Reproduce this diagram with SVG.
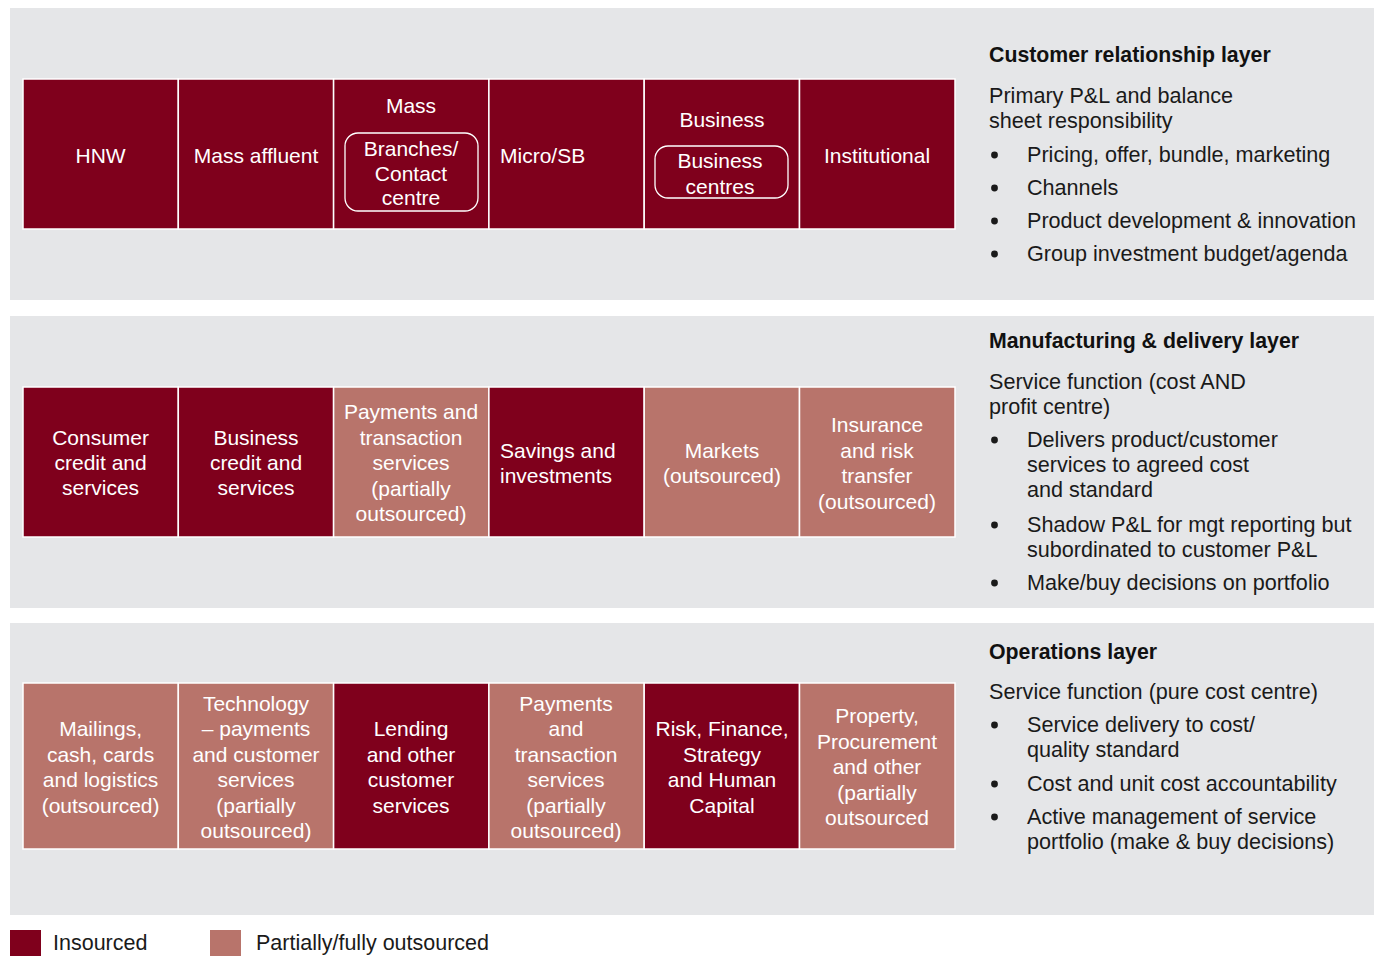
<svg xmlns="http://www.w3.org/2000/svg" width="1379" height="956" viewBox="0 0 1379 956">
<style>
.panel{fill:#e5e6e8}
.in{fill:#7f001c;stroke:#ffffff;stroke-width:1.5}
.out{fill:#b8746b;stroke:#ffffff;stroke-width:1.5}
.ct{font-family:"Liberation Sans",Arial,sans-serif;font-size:21px;fill:#ffffff;text-anchor:middle}
.cl{font-family:"Liberation Sans",Arial,sans-serif;font-size:21px;fill:#ffffff}
.pill{fill:none;stroke:#ffffff;stroke-width:1.3}
.h{font-family:"Liberation Sans",Arial,sans-serif;font-size:21.3px;font-weight:bold;fill:#111111}
.t{font-family:"Liberation Sans",Arial,sans-serif;font-size:21.6px;fill:#1a1a1a}
.b{fill:#1a1a1a}
.lg{font-family:"Liberation Sans",Arial,sans-serif;font-size:21.5px;fill:#1a1a1a}
</style>
<rect width="1379" height="956" fill="#ffffff"/>
<rect class="panel" x="10" y="8" width="1364" height="292"/>
<rect class="panel" x="10" y="316" width="1364" height="292"/>
<rect class="panel" x="10" y="623" width="1364" height="292"/>

<!-- Row 1 -->
<g id="hnw"><rect class="in" x="23" y="79" width="155.3" height="150"/><text class="ct" x="100.6" y="163">HNW</text></g>
<g id="mass-affluent"><rect class="in" x="178.3" y="79" width="155.3" height="150"/><text class="ct" x="256" y="163">Mass affluent</text></g>
<g id="mass"><rect class="in" x="333.6" y="79" width="155.3" height="150"/><text class="ct" x="411" y="113">Mass</text>
<rect class="pill" x="345" y="133" width="133" height="78" rx="13"/>
<text class="ct" x="411" y="156">Branches/</text><text class="ct" x="411" y="181">Contact</text><text class="ct" x="411" y="205">centre</text></g>
<g id="micro-sb"><rect class="in" x="488.9" y="79" width="155.3" height="150"/><text class="cl" x="500" y="163">Micro/SB</text></g>
<g id="business"><rect class="in" x="644.2" y="79" width="155.3" height="150"/><text class="ct" x="722" y="127">Business</text>
<rect class="pill" x="655" y="146" width="133" height="52" rx="13"/>
<text class="ct" x="720" y="168">Business</text><text class="ct" x="720" y="194">centres</text></g>
<g id="institutional"><rect class="in" x="799.5" y="79" width="155.5" height="150"/><text class="ct" x="877" y="163">Institutional</text></g>

<!-- Row 2 -->
<g id="consumer-credit"><rect class="in" x="23" y="387" width="155.3" height="150"/><text class="ct" x="100.6" y="445">Consumer</text><text class="ct" x="100.6" y="470">credit and</text><text class="ct" x="100.6" y="495">services</text></g>
<g id="business-credit"><rect class="in" x="178.3" y="387" width="155.3" height="150"/><text class="ct" x="256" y="445">Business</text><text class="ct" x="256" y="470">credit and</text><text class="ct" x="256" y="495">services</text></g>
<g id="payments-1"><rect class="out" x="333.6" y="387" width="155.3" height="150"/><text class="ct" x="411" y="419">Payments and</text><text class="ct" x="411" y="445">transaction</text><text class="ct" x="411" y="470">services</text><text class="ct" x="411" y="496">(partially</text><text class="ct" x="411" y="521">outsourced)</text></g>
<g id="savings"><rect class="in" x="488.9" y="387" width="155.3" height="150"/><text class="cl" x="500" y="458">Savings and</text><text class="cl" x="500" y="483">investments</text></g>
<g id="markets"><rect class="out" x="644.2" y="387" width="155.3" height="150"/><text class="ct" x="722" y="458">Markets</text><text class="ct" x="722" y="483">(outsourced)</text></g>
<g id="insurance"><rect class="out" x="799.5" y="387" width="155.5" height="150"/><text class="ct" x="877" y="432">Insurance</text><text class="ct" x="877" y="458">and risk</text><text class="ct" x="877" y="483">transfer</text><text class="ct" x="877" y="509">(outsourced)</text></g>

<!-- Row 3 -->
<g id="mailings"><rect class="out" x="23" y="683" width="155.3" height="166"/><text class="ct" x="100.6" y="736">Mailings,</text><text class="ct" x="100.6" y="762">cash, cards</text><text class="ct" x="100.6" y="787">and logistics</text><text class="ct" x="100.6" y="813">(outsourced)</text></g>
<g id="technology"><rect class="out" x="178.3" y="683" width="155.3" height="166"/><text class="ct" x="256" y="711">Technology</text><text class="ct" x="256" y="736">– payments</text><text class="ct" x="256" y="762">and customer</text><text class="ct" x="256" y="787">services</text><text class="ct" x="256" y="813">(partially</text><text class="ct" x="256" y="838">outsourced)</text></g>
<g id="lending"><rect class="in" x="333.6" y="683" width="155.3" height="166"/><text class="ct" x="411" y="736">Lending</text><text class="ct" x="411" y="762">and other</text><text class="ct" x="411" y="787">customer</text><text class="ct" x="411" y="813">services</text></g>
<g id="payments-2"><rect class="out" x="488.9" y="683" width="155.3" height="166"/><text class="ct" x="566" y="711">Payments</text><text class="ct" x="566" y="736">and</text><text class="ct" x="566" y="762">transaction</text><text class="ct" x="566" y="787">services</text><text class="ct" x="566" y="813">(partially</text><text class="ct" x="566" y="838">outsourced)</text></g>
<g id="risk"><rect class="in" x="644.2" y="683" width="155.3" height="166"/><text class="ct" x="722" y="736">Risk, Finance,</text><text class="ct" x="722" y="762">Strategy</text><text class="ct" x="722" y="787">and Human</text><text class="ct" x="722" y="813">Capital</text></g>
<g id="property"><rect class="out" x="799.5" y="683" width="155.5" height="166"/><text class="ct" x="877" y="723">Property,</text><text class="ct" x="877" y="749">Procurement</text><text class="ct" x="877" y="774">and other</text><text class="ct" x="877" y="800">(partially</text><text class="ct" x="877" y="825">outsourced</text></g>

<!-- Right descriptions -->
<g id="desc-customer">
<text class="h" x="989" y="62">Customer relationship layer</text>
<text class="t" x="989" y="103">Primary P&amp;L and balance</text>
<text class="t" x="989" y="128">sheet responsibility</text>
<circle class="b" cx="994.5" cy="155" r="3.4"/><text class="t" x="1027" y="162">Pricing, offer, bundle, marketing</text>
<circle class="b" cx="994.5" cy="188" r="3.4"/><text class="t" x="1027" y="195">Channels</text>
<circle class="b" cx="994.5" cy="221" r="3.4"/><text class="t" x="1027" y="228">Product development &amp; innovation</text>
<circle class="b" cx="994.5" cy="254" r="3.4"/><text class="t" x="1027" y="261">Group investment budget/agenda</text>
</g>
<g id="desc-manufacturing">
<text class="h" x="989" y="348">Manufacturing &amp; delivery layer</text>
<text class="t" x="989" y="389">Service function (cost AND</text>
<text class="t" x="989" y="414">profit centre)</text>
<circle class="b" cx="994.5" cy="440" r="3.4"/><text class="t" x="1027" y="447">Delivers product/customer</text>
<text class="t" x="1027" y="472">services to agreed cost</text>
<text class="t" x="1027" y="497">and standard</text>
<circle class="b" cx="994.5" cy="525" r="3.4"/><text class="t" x="1027" y="532">Shadow P&amp;L for mgt reporting but</text>
<text class="t" x="1027" y="557">subordinated to customer P&amp;L</text>
<circle class="b" cx="994.5" cy="583" r="3.4"/><text class="t" x="1027" y="590">Make/buy decisions on portfolio</text>
</g>
<g id="desc-operations">
<text class="h" x="989" y="659">Operations layer</text>
<text class="t" x="989" y="699">Service function (pure cost centre)</text>
<circle class="b" cx="994.5" cy="725" r="3.4"/><text class="t" x="1027" y="732">Service delivery to cost/</text>
<text class="t" x="1027" y="757">quality standard</text>
<circle class="b" cx="994.5" cy="784" r="3.4"/><text class="t" x="1027" y="791">Cost and unit cost accountability</text>
<circle class="b" cx="994.5" cy="817" r="3.4"/><text class="t" x="1027" y="824">Active management of service</text>
<text class="t" x="1027" y="849">portfolio (make &amp; buy decisions)</text>
</g>

<!-- Legend -->
<g id="legend">
<rect x="10" y="930" width="31" height="26" fill="#7f001c"/>
<text class="lg" x="53" y="950">Insourced</text>
<rect x="210" y="930" width="31" height="26" fill="#b8746b"/>
<text class="lg" x="256" y="950">Partially/fully outsourced</text>
</g>
<g id="connectors"/>
</svg>
